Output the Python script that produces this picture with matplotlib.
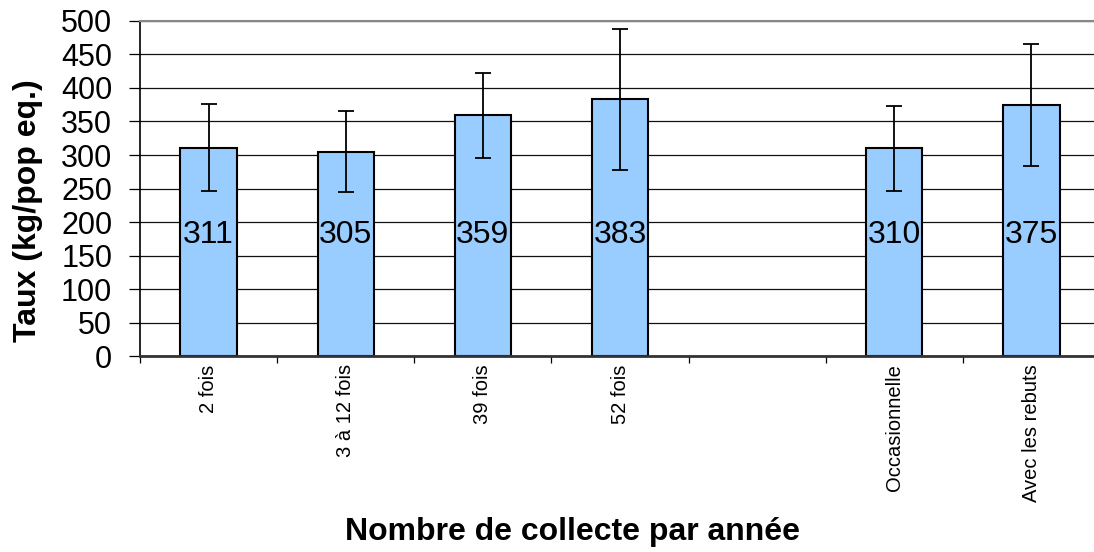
import numpy as np
import matplotlib
matplotlib.use('Agg')
import matplotlib.pyplot as plt

plt.rcParams['font.family'] = ['Liberation Sans', 'DejaVu Sans']

categories = ['2 fois', '3 à 12 fois', '39 fois', '52 fois', '', 'Occasionnelle', 'Avec les rebuts']
values = [311, 305, 359, 383, np.nan, 310, 375]
errors = [65, 60, 64, 105, np.nan, 63, 91]
yticks = [0, 50, 100, 150, 200, 250, 300, 350, 400, 450, 500]

fig = plt.figure(figsize=(10.94, 5.52), dpi=100)
ax = fig.add_axes([0.128, 0.355, 0.8775, 0.607])

x = np.arange(len(categories))
v = np.array(values, dtype=float)
e = np.array(errors, dtype=float)
m = ~np.isnan(v)

ax.set_axisbelow(True)
ax.yaxis.grid(True, color='#111111', linewidth=0.9)
ax.bar(x[m], v[m], width=0.41, color='#99CCFF', edgecolor='black', linewidth=1.5, zorder=2)
ax.errorbar(x[m], v[m], yerr=e[m], fmt='none', ecolor='black', elinewidth=1.3,
            capsize=6, capthick=1.3, zorder=3)

for xi, vi in zip(x[m], v[m]):
    ax.text(xi, 180, f'{int(vi)}', ha='center', va='center', fontsize=23, zorder=4)

ax.set_xlim(-0.5, len(categories) - 0.5)
ax.set_ylim(0, 500)
ax.set_yticks(yticks)
ax.tick_params(axis='y', labelsize=22, length=8, width=0.9, pad=12)

ax.set_xticks(x)
ax.set_xticklabels(categories, rotation=90, fontsize=14.5, va='top')
ax.tick_params(axis='x', which='major', length=0, pad=6)
ax.set_xticks(np.arange(-0.5, len(categories), 1), minor=True)
ax.tick_params(axis='x', which='minor', length=5, width=0.9)

ax.spines['top'].set_color('#888888')
ax.spines['top'].set_linewidth(1.5)
ax.spines['right'].set_visible(False)
ax.spines['left'].set_linewidth(1.2)
ax.spines['bottom'].set_linewidth(2)
ax.spines['bottom'].set_color('#333333')

fig.text(0.026, 0.618, 'Taux (kg/pop eq.)', rotation=90, ha='center', va='center',
         fontsize=23, fontweight='bold')
fig.text(0.523, 0.036, 'Nombre de collecte par année', ha='center', va='center',
         fontsize=23, fontweight='bold')

fig.savefig('out.png', dpi=100)
